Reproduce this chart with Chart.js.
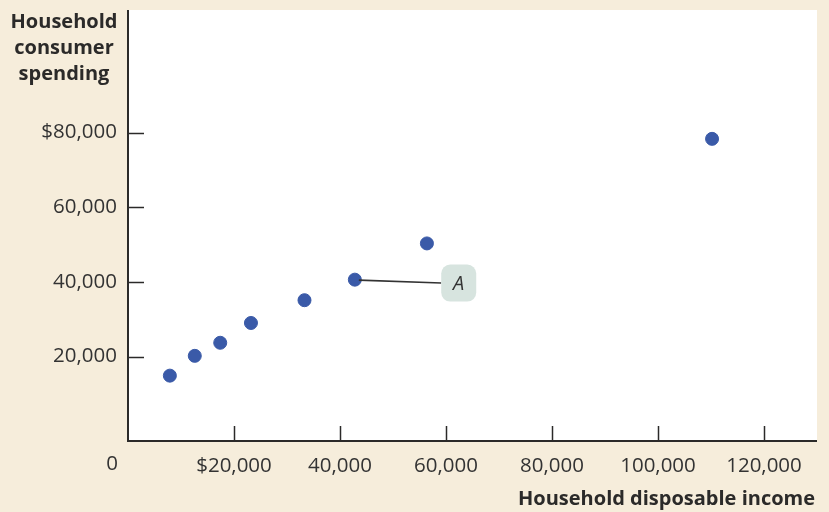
<!DOCTYPE html>
<html>
<head>
<meta charset="utf-8">
<script src="https://cdn.jsdelivr.net/npm/chart.js@4/dist/chart.umd.min.js"></script>
<style>
  html,body{margin:0;padding:0;background:#f6eddb;}
  #c{display:block;}
</style>
</head>
<body>
<canvas id="c" width="829" height="512"></canvas>
<script>
/* household disposable income vs consumer spending */
const income   = [7900, 12600, 17400, 23200, 33300, 42800, 56400, 110200];
const spending = [14900, 20200, 23700, 29000, 35100, 40600, 50300, 78300];
const xTicks = [0, 20000, 40000, 60000, 80000, 100000, 120000];
const yTicks = [20000, 40000, 60000, 80000];
const labelA = {text:'A', pointIndex:5, x:62400, y:39700};

const INK='#2b2a29', CREAM='#f6eddb', DOT='#3a5aa8', BOX='#d7e4df';
const FONT='"Open Sans", sans-serif';

const fmt=v=>v.toLocaleString('en-US');

const decor={
  id:'decor',
  beforeDraw(chart){
    const {ctx,chartArea:a}=chart;
    ctx.save();
    ctx.fillStyle=CREAM;ctx.fillRect(0,0,chart.width,chart.height);
    ctx.fillStyle='#fff';ctx.fillRect(a.left,a.top,a.right-a.left,a.bottom-a.top);
    ctx.restore();
  },
  afterDatasetsDraw(chart){
    const {ctx,chartArea:a,scales:{x,y}}=chart;
    ctx.save();
    // inward tick marks
    ctx.strokeStyle=INK;ctx.lineWidth=1.5;
    xTicks.slice(1).forEach(v=>{
      const px=Math.round(x.getPixelForValue(v))+0.5;
      ctx.beginPath();ctx.moveTo(px,a.bottom);ctx.lineTo(px,a.bottom-15);ctx.stroke();
    });
    yTicks.forEach(v=>{
      const py=Math.round(y.getPixelForValue(v))+0.5;
      ctx.beginPath();ctx.moveTo(a.left,py);ctx.lineTo(a.left+16,py);ctx.stroke();
    });
    // axis lines
    ctx.lineWidth=2;
    ctx.beginPath();ctx.moveTo(a.left,a.top);ctx.lineTo(a.left,a.bottom);ctx.lineTo(a.right,a.bottom);ctx.stroke();

    // annotation A
    const px0=x.getPixelForValue(income[labelA.pointIndex]);
    const py0=y.getPixelForValue(spending[labelA.pointIndex]);
    const cx=x.getPixelForValue(labelA.x), cy=y.getPixelForValue(labelA.y);
    const w=35,h=37;
    ctx.strokeStyle='#333';ctx.lineWidth=1.6;
    ctx.beginPath();ctx.moveTo(px0+4,py0+0.5);ctx.lineTo(cx-w/2,cy);ctx.stroke();
    ctx.fillStyle=BOX;
    ctx.beginPath();ctx.roundRect(cx-w/2,cy-h/2,w,h,9);ctx.fill();
    ctx.fillStyle='#333';ctx.font='italic 20px '+FONT;
    ctx.textAlign='center';ctx.textBaseline='middle';
    ctx.fillText(labelA.text,cx,cy+1);

    // origin label
    ctx.fillStyle='#333';ctx.font='20.5px '+FONT;
    ctx.fillText('0',a.left-16,464);

    // axis titles
    ctx.fillStyle=INK;ctx.font='bold 20px '+FONT;
    ['Household','consumer','spending'].forEach((t,i)=>ctx.fillText(t,64,22+i*26));
    ctx.textAlign='right';
    ctx.fillText('Household disposable income',815,499);
    ctx.restore();
  }
};

new Chart(document.getElementById('c'),{
  type:'scatter',
  data:{datasets:[{
    data:income.map((v,i)=>({x:v,y:spending[i]})),
    backgroundColor:DOT,borderColor:DOT,pointRadius:6.5,pointHoverRadius:6.5
  }]},
  plugins:[decor],
  options:{
    responsive:false,animation:false,
    layout:{padding:{top:10,right:12,left:0,bottom:0}},
    plugins:{legend:{display:false},tooltip:{enabled:false}},
    scales:{
      x:{
        type:'linear',min:0,max:130000,
        afterBuildTicks:s=>{s.ticks=xTicks.map(v=>({value:v}));},
        afterFit:s=>{s.height=71;s.paddingLeft=0;s.paddingRight=0;},
        grid:{display:false,drawTicks:false},border:{display:false},
        ticks:{padding:13,color:'#333',font:{family:FONT,size:20.5},
          callback:v=>v===0?'':(v===20000?'$':'')+fmt(v)}
      },
      y:{
        type:'linear',min:-2600,max:112800,
        afterBuildTicks:s=>{s.ticks=yTicks.map(v=>({value:v}));},
        afterFit:s=>{s.width=128;s.paddingTop=0;s.paddingBottom=0;},
        grid:{display:false,drawTicks:false},border:{display:false},
        ticks:{padding:11,color:'#333',font:{family:FONT,size:20.5},
          callback:v=>(v===80000?'$':'')+fmt(v)}
      }
    }
  }
});
</script>
</body>
</html>
